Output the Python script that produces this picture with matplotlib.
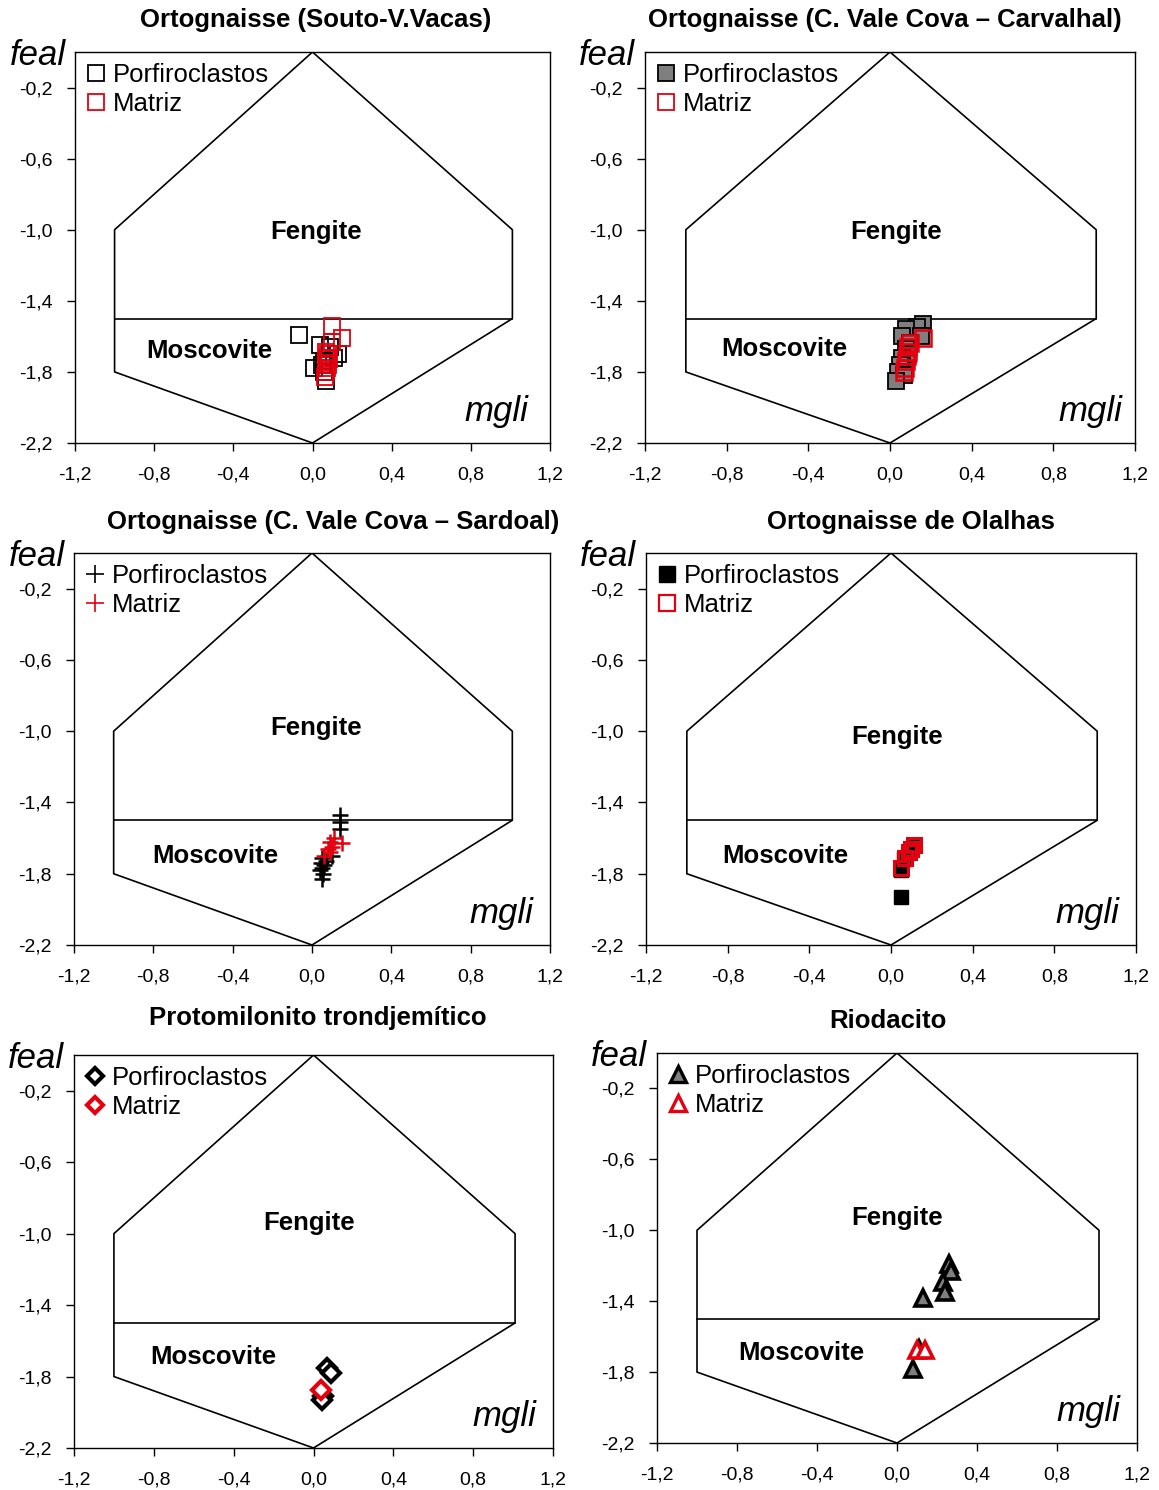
import matplotlib
matplotlib.use("Agg")
import matplotlib.pyplot as plt
from matplotlib.lines import Line2D
from matplotlib.ticker import FuncFormatter

plt.rcParams['font.family'] = ['Liberation Sans', 'DejaVu Sans']

# --- data (mgli, feal) ---
titles = [
    "Ortognaisse (Souto-V.Vacas)",
    "Ortognaisse (C. Vale Cova \u2013 Carvalhal)",
    "Ortognaisse (C. Vale Cova \u2013 Sardoal)",
    "Ortognaisse de Olalhas",
    "Protomilonito trondjem\u00edtico",
    "Riodacito",
]
series_labels = ["Porfiroclastos", "Matriz"]

# outline of the classification field
field_x = [0.0, 1.01, 1.01, 0.0, -1.0, -1.0, 0.0]
field_y = [0.0, -1.0, -1.5, -2.2, -1.8, -1.0, 0.0]
divider_x = [-1.0, 1.01]
divider_y = [-1.5, -1.5]

souto_porf_x = [-0.07, 0.04, 0.09, 0.13, 0.11, 0.06, 0.01, 0.06, 0.07, 0.05]
souto_porf_y = [-1.59, -1.65, -1.66, -1.70, -1.72, -1.74, -1.78, -1.80, -1.85, -1.76]
souto_matr_x = [0.10, 0.15, 0.10, 0.07, 0.08, 0.075, 0.085, 0.07, 0.08, 0.075, 0.07, 0.065]
souto_matr_y = [-1.54, -1.61, -1.63, -1.69, -1.70, -1.72, -1.73, -1.75, -1.76, -1.78, -1.80, -1.83]

carv_porf_x = [0.16, 0.13, 0.08, 0.06, 0.15, 0.10, 0.08, 0.09, 0.06, 0.05, 0.04, 0.07, 0.03]
carv_porf_y = [-1.53, -1.55, -1.56, -1.60, -1.60, -1.64, -1.67, -1.70, -1.72, -1.76, -1.80, -1.82, -1.85]
carv_matr_x = [0.16, 0.10, 0.09, 0.09, 0.085, 0.08, 0.075, 0.07]
carv_matr_y = [-1.61, -1.64, -1.66, -1.69, -1.71, -1.74, -1.78, -1.80]

sard_porf_x = [0.14, 0.14, 0.14, 0.10, 0.07, 0.05, 0.045, 0.06, 0.05, 0.04, 0.055, 0.05]
sard_porf_y = [-1.47, -1.51, -1.55, -1.70, -1.73, -1.71, -1.74, -1.75, -1.77, -1.78, -1.80, -1.83]
sard_matr_x = [0.11, 0.09, 0.15, 0.10, 0.08, 0.09, 0.06]
sard_matr_y = [-1.60, -1.62, -1.63, -1.65, -1.66, -1.68, -1.70]

olal_porf_x = [0.115, 0.09, 0.065, 0.05, 0.05]
olal_porf_y = [-1.64, -1.68, -1.72, -1.78, -1.93]
olal_matr_x = [0.115, 0.10, 0.09, 0.07, 0.05]
olal_matr_y = [-1.64, -1.66, -1.68, -1.71, -1.77]

prot_porf_x = [0.07, 0.09, 0.05, 0.045]
prot_porf_y = [-1.75, -1.78, -1.91, -1.93]
prot_matr_x = [0.04]
prot_matr_y = [-1.875]

riod_porf_x = [0.26, 0.27, 0.23, 0.24, 0.13, 0.11, 0.08]
riod_porf_y = [-1.19, -1.23, -1.29, -1.35, -1.38, -1.67, -1.78]
riod_matr_x = [0.10, 0.14]
riod_matr_y = [-1.675, -1.675]

porf_x = [souto_porf_x, carv_porf_x, sard_porf_x, olal_porf_x, prot_porf_x, riod_porf_x]
porf_y = [souto_porf_y, carv_porf_y, sard_porf_y, olal_porf_y, prot_porf_y, riod_porf_y]
matr_x = [souto_matr_x, carv_matr_x, sard_matr_x, olal_matr_x, prot_matr_x, riod_matr_x]
matr_y = [souto_matr_y, carv_matr_y, sard_matr_y, olal_matr_y, prot_matr_y, riod_matr_y]

x_ticks = [-1.2, -0.8, -0.4, 0.0, 0.4, 0.8, 1.2]
y_ticks = [-2.2, -1.8, -1.4, -1.0, -0.6, -0.2]

# --- styles ---
RED = '#e3000f'
porf_style = [
    dict(marker='s', ms=12, mfc='none', mec='black', mew=1.3),
    dict(marker='s', ms=12, mfc='#7f7f7f', mec='black', mew=1.3),
    dict(marker='+', ms=12, mec='black', mew=1.8),
    dict(marker='s', ms=10.5, mfc='black', mec='black', mew=1.0),
    dict(marker='D', ms=9, mfc='white', mec='black', mew=3.0),
    dict(marker='^', ms=12, mfc='#7f7f7f', mec='black', mew=2.6),
]
matr_style = [
    dict(marker='s', ms=12, mfc='none', mec=RED, mew=1.3),
    dict(marker='s', ms=12, mfc='none', mec=RED, mew=1.8),
    dict(marker='+', ms=12, mec=RED, mew=1.8),
    dict(marker='s', ms=10.5, mfc='none', mec=RED, mew=2.2),
    dict(marker='D', ms=9, mfc='white', mec=RED, mew=3.0),
    dict(marker='^', ms=12, mfc='white', mec=RED, mew=2.6),
]
legend_porf_style = [
    dict(marker='s', ms=11, mfc='none', mec='black', mew=1.3),
    dict(marker='s', ms=11, mfc='#7f7f7f', mec='black', mew=1.3),
    dict(marker='+', ms=13, mec='black', mew=1.2),
    dict(marker='s', ms=11, mfc='black', mec='black', mew=1.0),
    dict(marker='D', ms=8, mfc='white', mec='black', mew=3.0),
    dict(marker='^', ms=11, mfc='#7f7f7f', mec='black', mew=2.4),
]
legend_matr_style = [
    dict(marker='s', ms=11, mfc='none', mec=RED, mew=1.3),
    dict(marker='s', ms=11, mfc='none', mec=RED, mew=1.3),
    dict(marker='+', ms=13, mec=RED, mew=1.2),
    dict(marker='s', ms=11, mfc='none', mec=RED, mew=1.6),
    dict(marker='D', ms=8, mfc='white', mec=RED, mew=3.0),
    dict(marker='^', ms=11, mfc='white', mec=RED, mew=2.4),
]

# panel boxes in pixels: left, right, top, bottom ; title centre x, title y
W, H = 1159, 1490
boxes = [
    (75, 550, 52, 443), (645, 1135, 52, 443),
    (74, 550, 553, 945), (646, 1136, 553, 945),
    (74, 553, 1055, 1448), (657, 1137, 1053, 1443),
]
title_pos = [(316, 20), (885, 20), (333, 522), (911, 522), (318, 1018), (888, 1021)]
feng_pos = [(0.02, -1.01), (0.03, -1.01), (0.02, -0.98), (0.03, -1.03), (-0.02, -0.94), (0.0, -0.93)]
mosc_pos = [(-0.52, -1.68), (-0.52, -1.67), (-0.49, -1.70), (-0.52, -1.70), (-0.50, -1.69), (-0.48, -1.69)]
mgli_x = [0.955, 0.975, 0.965, 0.965, 0.965, 0.965]

fig = plt.figure(figsize=(W / 100, H / 100), dpi=100)

comma = FuncFormatter(lambda v, p: f"{v:.1f}".replace('.', ','))

for i in range(6):
    l, r, t, b = boxes[i]
    ax = fig.add_axes([l / W, 1 - b / H, (r - l) / W, (b - t) / H])
    ax.plot(field_x, field_y, color='black', lw=1.2, zorder=1)
    ax.plot(divider_x, divider_y, color='black', lw=1.2, zorder=1)

    ax.plot(porf_x[i], porf_y[i], ls='none', zorder=3, **porf_style[i])
    ax.plot(matr_x[i], matr_y[i], ls='none', zorder=4, **matr_style[i])

    ax.set_xlim(-1.2, 1.2)
    ax.set_ylim(-2.2, 0.0)
    ax.set_xticks(x_ticks)
    ax.set_yticks(y_ticks)
    ax.xaxis.set_major_formatter(comma)
    ax.yaxis.set_major_formatter(comma)
    ax.tick_params(direction='out', length=6, width=1, labelsize=14)
    ax.tick_params(axis='x', pad=11)
    ax.tick_params(axis='y', pad=10)
    for s in ax.spines.values():
        s.set_linewidth(1.0)

    ax.text(*feng_pos[i], "Fengite", ha='center', va='center', fontsize=18.5, fontweight='bold')
    ax.text(*mosc_pos[i], "Moscovite", ha='center', va='center', fontsize=18.5, fontweight='bold')
    ax.text(mgli_x[i], 0.08, "mgli", transform=ax.transAxes, ha='right', va='center',
            fontsize=25, style='italic')
    ax.text(-0.02, 0.99, "feal", transform=ax.transAxes, ha='right', va='center',
            fontsize=25, style='italic')

    tx, ty = title_pos[i]
    fig.text(tx / W, 1 - ty / H, titles[i], ha='center', va='center',
             fontsize=18.5, fontweight='bold')

    handles = [Line2D([], [], ls='none', **legend_porf_style[i]),
               Line2D([], [], ls='none', **legend_matr_style[i])]
    ax.legend(handles, series_labels, loc='upper left', frameon=False, fontsize=18.5,
              borderpad=0.0, borderaxespad=0.42, handlelength=0.76, handletextpad=0.3,
              labelspacing=0.2)

fig.savefig("out.png", dpi=100)
